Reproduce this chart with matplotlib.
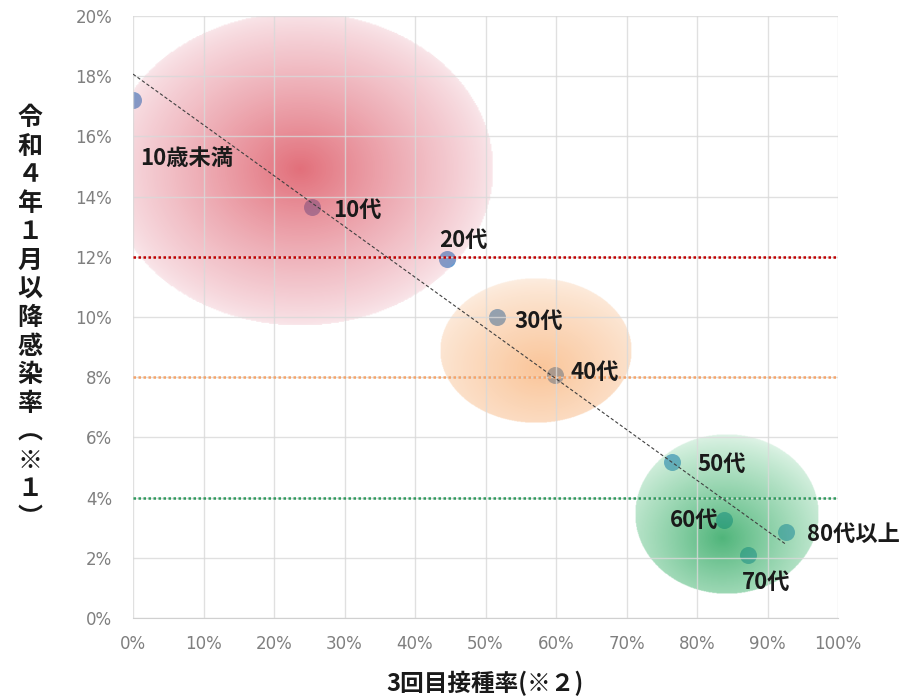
import numpy as np
import matplotlib
matplotlib.use("Agg")
import matplotlib.pyplot as plt
from matplotlib.ticker import FuncFormatter

plt.rcParams['font.family'] = ['Noto Sans CJK JP', 'DejaVu Sans']

# age groups: 3rd dose rate (%) vs infection rate since Jan 2022 (%)
groups = ['10歳未満', '10代', '20代', '30代', '40代', '50代', '60代', '70代', '80代以上']
dose_rate = [0.0, 25.4, 44.5, 51.6, 59.9, 76.5, 83.8, 87.2, 92.6]
infect_rate = [17.2, 13.67, 11.93, 10.0, 8.07, 5.17, 3.27, 2.1, 2.87]

# label offsets in pixels (dx, dy) and alignment
label_off = [(7, -58), (21, -4), (-8, 18), (18, -4), (15, 3), (25, -2), (-5, -1), (-6, -28), (21, -3)]
label_ha = ['left', 'left', 'left', 'left', 'left', 'left', 'right', 'left', 'left']

# trend line end points
trend_x = [0.0, 92.6]
trend_y = [18.07, 2.45]

# reference levels
ref_levels = [12, 8, 4]
ref_colors = ['#c00000', '#f4a46a', '#2f9a5e']

# group bubbles: center x, center y, half width, half height
bubble_cx = [23.7, 57.2, 84.2]
bubble_cy = [14.9, 8.87, 3.45]
bubble_rx = [27.5, 13.6, 13.0]
bubble_ry = [5.2, 2.4, 2.65]
bubble_shift = [(0.0, 0.0), (0.05, -0.25), (-0.05, -0.3)]
bubble_inner = [(215, 55, 70), (247, 150, 70), (30, 160, 85)]
bubble_outer = [(232, 150, 165), (246, 180, 125), (130, 210, 160)]
bubble_alpha = [(0.72, 0.22), (0.55, 0.22), (0.78, 0.22)]


def bubble(ax, cx, cy, rx, ry, shift, c_in, c_out, a_in, a_out):
    n = 300
    s = np.linspace(-1, 1, n)
    X, Y = np.meshgrid(s, s)
    r = np.sqrt(X ** 2 + Y ** 2)
    g = np.sqrt((X - shift[0]) ** 2 + (Y - shift[1]) ** 2)
    t = np.clip(g / (1 + np.hypot(*shift)), 0, 1)
    img = np.zeros((n, n, 4))
    for i in range(3):
        img[..., i] = (c_in[i] * (1 - t) + c_out[i] * t) / 255.0
    a = a_out + (a_in - a_out) * (1 - t) ** 0.6
    a[r > 1] = 0
    img[..., 3] = a
    ax.imshow(img, extent=[cx - rx, cx + rx, cy - ry, cy + ry], origin='lower',
              aspect='auto', zorder=2, interpolation='bilinear')


fig = plt.figure(figsize=(9.22, 7), dpi=100)
ax = fig.add_axes([133 / 922, 82 / 700, 705 / 922, 602 / 700])

ax.scatter(dose_rate, infect_rate, s=150, color='#5b9bd5', zorder=1.5, linewidths=0)

for i in range(len(bubble_cx)):
    bubble(ax, bubble_cx[i], bubble_cy[i], bubble_rx[i], bubble_ry[i], bubble_shift[i],
           bubble_inner[i], bubble_outer[i], bubble_alpha[i][0], bubble_alpha[i][1])

for lvl, c in zip(ref_levels, ref_colors):
    ax.plot([0, 100], [lvl, lvl], color=c, lw=1.8, linestyle=(0, (1, 1)), zorder=4)

ax.plot(trend_x, trend_y, color='#404040', lw=0.8, linestyle=(0, (3, 2)), zorder=4)

for name, x, y, off, ha in zip(groups, dose_rate, infect_rate, label_off, label_ha):
    ax.annotate(name, (x, y), xytext=off, textcoords='offset pixels', ha=ha, va='center',
                fontsize=16, fontweight='bold', color='#1a1a1a', zorder=5)

ax.set_xlim(0, 100)
ax.set_ylim(0, 20)
ax.set_xticks(np.arange(0, 101, 10))
ax.set_yticks(np.arange(0, 21, 2))
ax.xaxis.set_major_formatter(FuncFormatter(lambda v, p: '%d%%' % v))
ax.yaxis.set_major_formatter(FuncFormatter(lambda v, p: '%d%%' % v))
ax.grid(True, color='#d9d9d9', lw=1, alpha=0.8)
ax.set_axisbelow(False)
for sp in ['top', 'right', 'left']:
    ax.spines[sp].set_visible(False)
ax.spines['bottom'].set_color('#d0d0d0')
ax.tick_params(length=0, labelsize=12, labelcolor='#7f7f7f')
ax.tick_params(axis='y', pad=15)
ax.tick_params(axis='x', pad=12)
for lbl in ax.get_xticklabels() + ax.get_yticklabels():
    lbl.set_family('DejaVu Sans')

fig.text(485 / 922, 1 - 683 / 700, '3回目接種率(※２)', ha='center', va='center',
         fontsize=17, fontweight='bold', color='#1a1a1a')
ylab = ['令', '和', '４', '年', '１', '月', '以', '降', '感', '染', '率', '︵', '※', '１', '︶']
fig.text(30 / 922, 1 - 318 / 700, '\n'.join(ylab), ha='center', va='center',
         fontsize=18, fontweight='bold', color='#1a1a1a', linespacing=1.24)

fig.savefig('out.png', dpi=100)
